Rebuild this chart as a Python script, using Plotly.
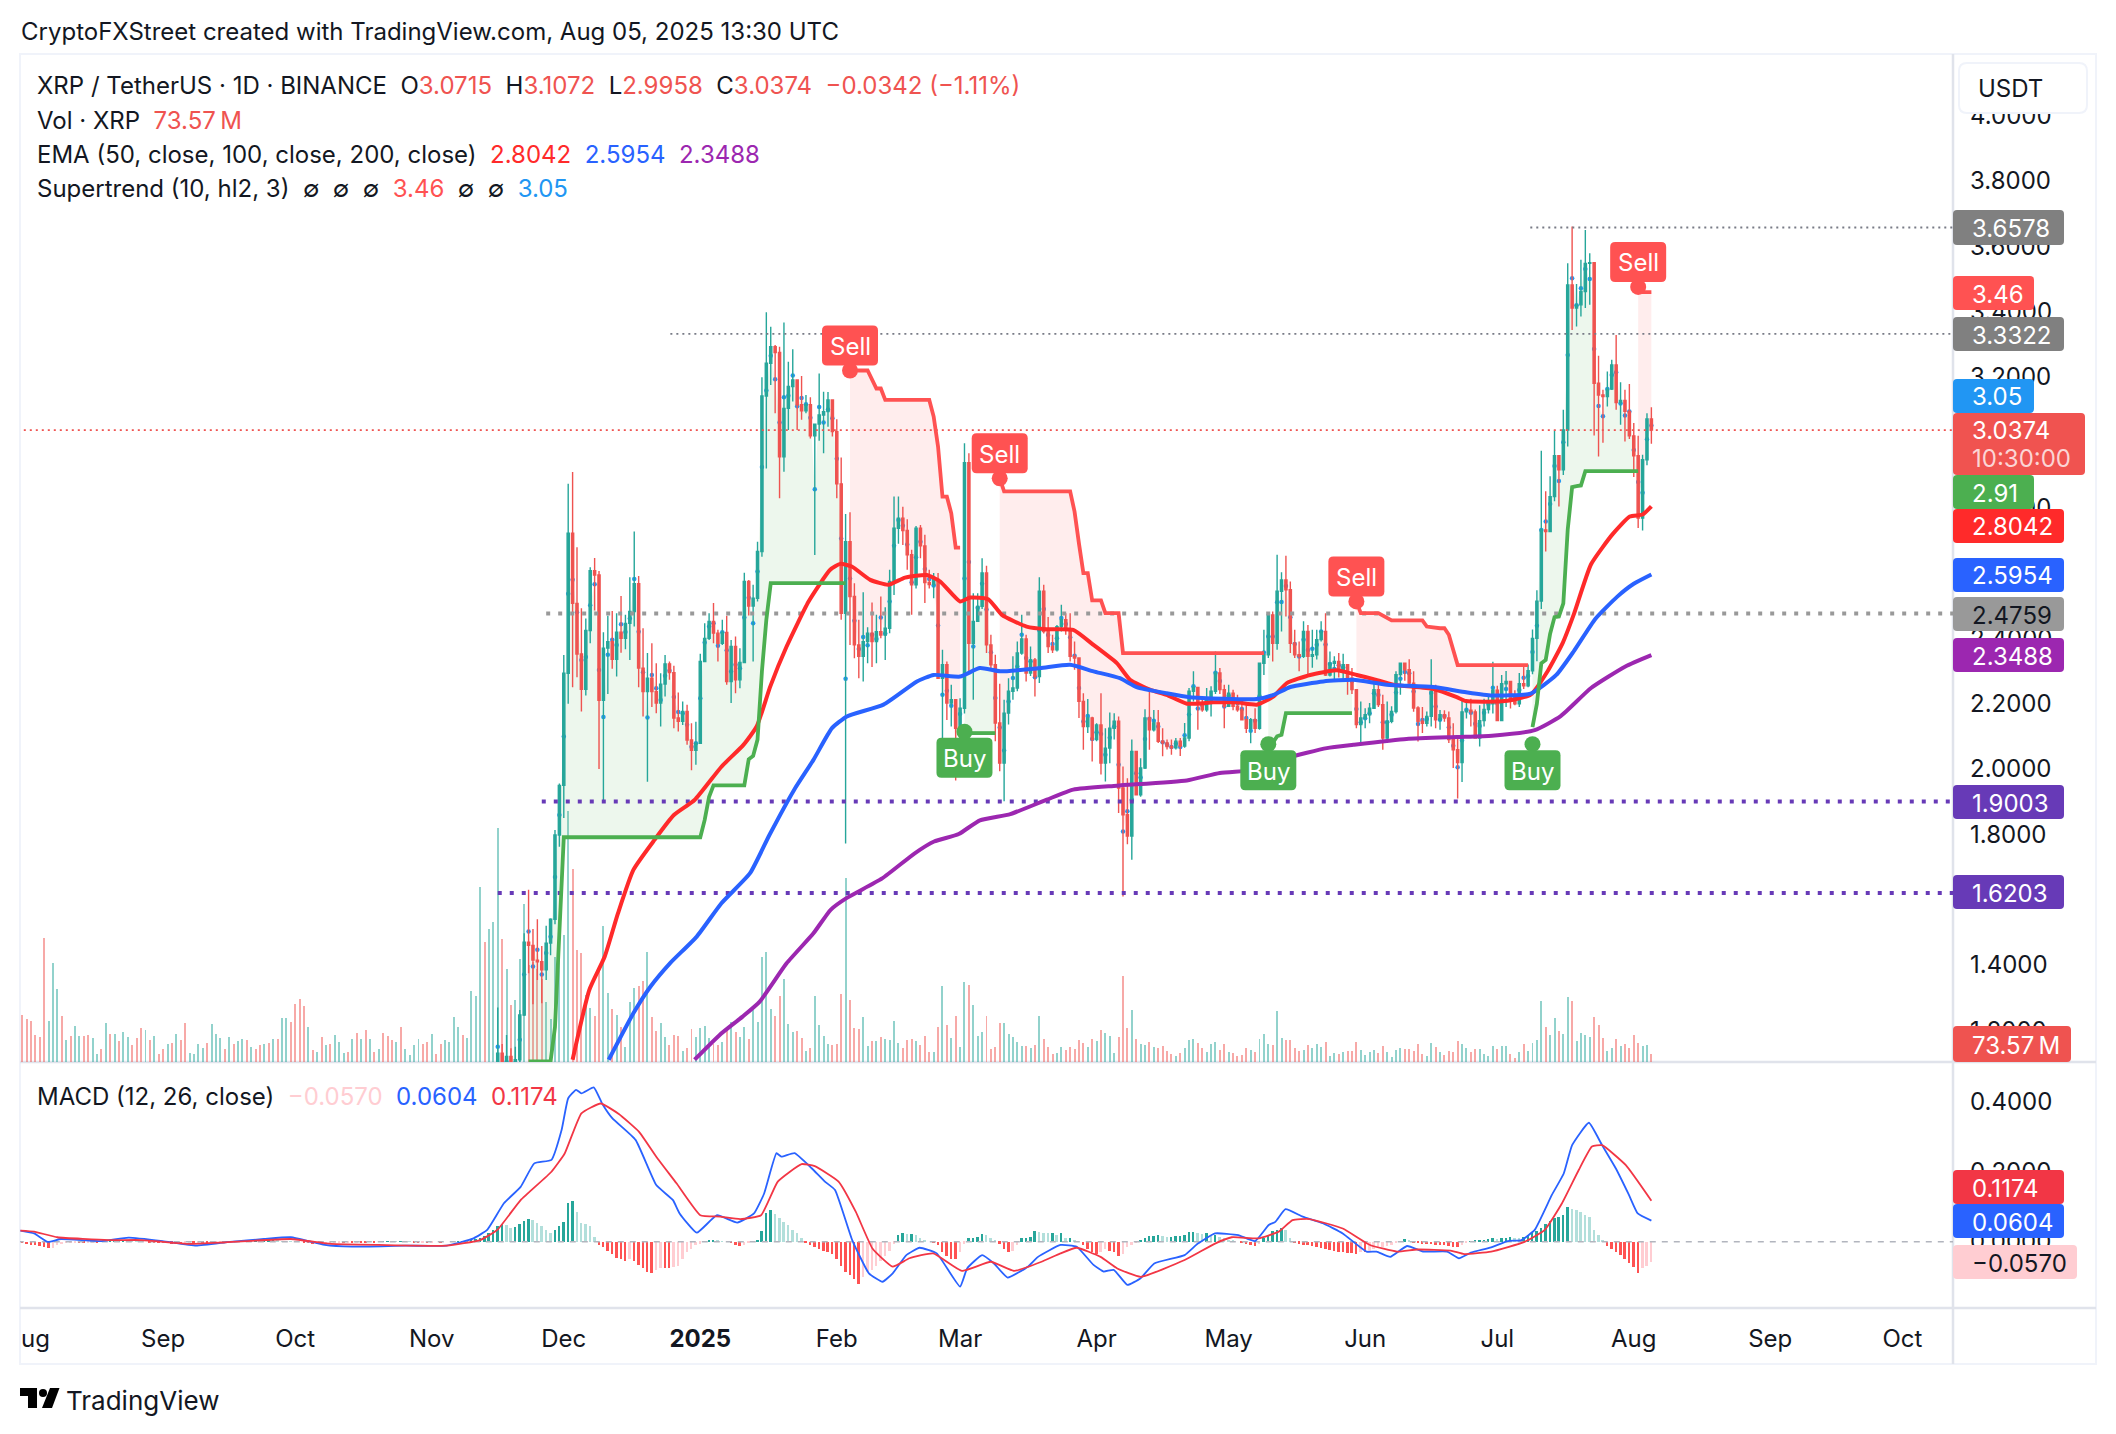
import pandas as pd
import plotly.graph_objects as go

W = 2116
H = 1434

# all series are day offsets from this date
base_day = pd.Timestamp("2024-09-01")

def day(d):
    return base_day + pd.to_timedelta(d, unit="D")

# daily candles, Nov 16 2024 -> Aug 5 2025 (open = previous close)
first_open = 1.03
highs = [
    1.27,1.158,1.186,1.145,1.15,1.262,1.497,1.63,1.51,1.54,1.458,1.52,1.543,1.813,1.956,
    2.349,2.873,2.909,2.679,2.492,2.461,2.618,2.646,2.606,2.419,2.469,2.484,2.477,2.53,2.472,2.587,2.727,2.591,2.431,2.355,2.385,2.324,2.293,2.349,2.329,2.316,2.234,2.207,2.197,2.14,2.145,
    2.353,2.446,2.477,2.508,2.426,2.457,2.469,2.395,2.406,2.37,2.601,2.579,2.564,2.696,3.199,3.398,3.354,3.298,3.293,3.367,3.247,3.285,3.183,3.203,3.145,3.138,3.058,3.211,3.155,3.154,3.13,
    3.071,2.954,2.781,2.786,2.569,2.457,2.541,2.434,2.51,2.472,2.528,2.495,2.61,2.834,2.834,2.803,2.765,2.671,2.744,2.747,2.717,2.61,2.6,2.6,2.365,2.329,2.258,2.202,
    2.217,2.997,2.967,2.538,2.538,2.645,2.622,2.411,2.35,2.261,2.212,2.278,2.345,2.39,2.472,2.411,2.375,2.34,2.587,2.564,2.465,2.411,2.441,2.503,2.477,2.477,2.39,2.34,2.232,2.214,2.16,
    2.14,2.232,2.125,2.173,2.171,2.161,2.008,1.972,2.09,2.054,2.033,2.183,2.248,2.181,2.181,2.125,2.09,2.09,2.095,2.095,2.141,2.248,2.299,2.25,2.217,2.248,2.253,2.36,2.309,2.258,
    2.258,2.243,2.227,2.217,2.202,2.156,2.186,2.326,2.426,2.472,2.482,2.656,2.602,2.653,2.574,2.426,2.39,2.452,2.441,2.426,2.426,2.452,2.477,2.36,2.345,2.355,2.353,2.319,2.309,2.243,2.207,
    2.186,2.202,2.278,2.263,2.227,2.207,2.192,2.299,2.326,2.324,2.336,2.299,2.192,2.19,2.176,2.336,2.258,2.181,2.18,2.176,2.14,2.10,2.215,2.208,2.215,2.182,2.195,2.215,2.228,2.328,
    2.255,2.288,2.3,2.268,2.241,2.294,2.314,2.32,2.427,2.547,2.974,2.85,2.896,3.036,2.959,3.1,3.548,3.661,3.485,3.559,3.65,3.579,3.551,3.265,3.161,3.217,3.253,3.329,3.184,3.161,3.179,
    3.059,3.02,2.962,3.089,3.1072,
]
lows = [
    1.03,1.03,1.02,1.02,1.05,1.08,1.244,1.375,1.28,1.354,1.283,1.354,1.43,1.525,1.762,
    1.85,2.2,2.25,2.281,2.176,2.225,2.385,2.485,2.0,1.9,2.23,2.307,2.283,2.356,2.367,2.334,2.436,2.25,2.161,1.961,2.19,2.171,2.13,2.222,2.273,2.125,2.115,2.135,2.074,1.996,2.013,
    2.08,2.329,2.395,2.385,2.329,2.38,2.258,2.202,2.232,2.247,2.326,2.47,2.329,2.513,2.65,2.92,3.176,3.089,2.829,2.91,3.038,3.125,3.038,3.069,3.089,3.012,2.655,3.005,2.967,3.048,3.018,
    2.829,2.457,1.772,2.38,2.339,2.278,2.268,2.324,2.312,2.324,2.40,2.334,2.416,2.533,2.69,2.686,2.61,2.472,2.553,2.645,2.508,2.553,2.523,2.278,2.09,2.15,2.13,1.965,
    2.12,2.17,2.3,2.212,2.45,2.49,2.355,2.304,2.085,1.993,1.901,2.136,2.212,2.238,2.35,2.268,2.285,2.222,2.263,2.415,2.355,2.355,2.36,2.421,2.411,2.329,2.304,2.156,2.059,2.11,2.023,
    2.085,1.983,1.962,2.018,2.09,1.865,1.61,1.77,1.722,1.92,1.915,2.0,2.059,2.115,2.08,2.039,2.06,2.044,2.06,2.04,2.065,2.085,2.207,2.12,2.175,2.175,2.161,2.23,2.23,2.125,
    2.19,2.18,2.175,2.15,2.11,2.079,2.11,2.12,2.288,2.34,2.329,2.365,2.421,2.467,2.355,2.34,2.299,2.34,2.288,2.31,2.335,2.39,2.285,2.283,2.268,2.28,2.268,2.227,2.23,2.125,2.079,
    2.125,2.14,2.186,2.19,2.059,2.08,2.14,2.17,2.227,2.27,2.25,2.175,2.084,2.11,2.13,2.13,2.125,2.12,2.145,2.08,2.003,1.91,1.96,2.155,2.13,2.095,2.069,2.13,2.17,2.17,
    2.148,2.16,2.19,2.185,2.195,2.19,2.245,2.25,2.29,2.33,2.49,2.666,2.727,2.82,2.804,2.9,2.987,3.344,3.355,3.385,3.411,3.421,3.021,2.957,2.999,3.11,3.16,3.1,3.054,3.003,3.01,
    2.894,2.738,2.73,2.93,2.9958,
]
closes = [
    1.13,1.08,1.12,1.09,1.11,1.247,1.47,1.46,1.415,1.41,1.385,1.467,1.54,1.798,1.95,
    2.293,2.722,2.507,2.352,2.244,2.424,2.607,2.594,2.21,2.37,2.39,2.336,2.419,2.40,2.446,2.482,2.567,2.309,2.237,2.278,2.237,2.202,2.26,2.322,2.295,2.156,2.146,2.176,2.089,2.057,2.079,
    2.329,2.40,2.452,2.416,2.385,2.418,2.268,2.375,2.273,2.326,2.574,2.499,2.523,2.666,3.142,3.242,3.293,3.275,2.956,3.104,3.171,3.191,3.115,3.097,3.115,3.02,3.056,3.084,3.094,3.13,3.033,
    2.873,2.477,2.696,2.528,2.38,2.345,2.39,2.416,2.39,2.42,2.41,2.431,2.574,2.737,2.768,2.73,2.656,2.564,2.737,2.683,2.571,2.565,2.58,2.278,2.319,2.202,2.212,2.125,
    2.186,2.938,2.385,2.452,2.498,2.6,2.38,2.319,2.141,2.018,2.171,2.238,2.248,2.355,2.398,2.294,2.334,2.283,2.544,2.421,2.375,2.365,2.436,2.457,2.426,2.345,2.34,2.207,2.13,2.156,2.09,
    2.135,2.018,2.064,2.125,2.146,1.942,1.86,1.795,2.054,1.921,2.003,2.156,2.12,2.141,2.085,2.08,2.069,2.065,2.085,2.07,2.095,2.238,2.25,2.197,2.181,2.217,2.238,2.294,2.243,2.192,
    2.232,2.192,2.181,2.151,2.125,2.151,2.125,2.324,2.35,2.472,2.385,2.544,2.579,2.549,2.385,2.35,2.345,2.421,2.345,2.35,2.396,2.421,2.288,2.324,2.329,2.304,2.319,2.278,2.243,2.136,2.156,
    2.166,2.186,2.243,2.197,2.095,2.146,2.176,2.289,2.324,2.304,2.263,2.187,2.146,2.14,2.161,2.238,2.151,2.166,2.156,2.09,2.059,2.02,2.175,2.18,2.175,2.095,2.148,2.182,2.2,2.241,
    2.148,2.261,2.268,2.208,2.2,2.261,2.255,2.301,2.4,2.514,2.732,2.727,2.834,2.959,2.916,3.038,3.482,3.411,3.421,3.462,3.548,3.55,3.181,3.145,3.14,3.163,3.237,3.122,3.128,3.095,3.02,
    2.959,2.768,2.947,3.0715,3.0374,
]

# volume in millions, Jul 31 2024 -> Aug 5 2025
volumes = [
    420,384,366,240,225,1116,366,891,654,414,
    195,234,324,234,234,240,216,72,117,351,
    252,252,189,270,225,153,216,306,288,198,
    234,72,117,162,171,252,198,351,81,72,
    162,126,171,342,252,216,117,225,162,189,
    207,198,135,117,153,162,171,207,207,396,
    396,360,522,567,504,315,108,90,225,153,
    162,243,180,81,90,207,261,207,288,207,
    90,117,261,234,198,180,315,117,63,153,
    207,162,180,252,72,162,198,180,405,315,
    243,216,639,594,
    1575,1080,1200,1260,2106,1110,840,510,555,930,
    1425,870,900,840,750,540,390,945,996,1140,
    2259,1740,1005,981,600,486,414,825,1224,621,
    480,426,315,135,540,666,684,729,990,405,
    279,351,225,156,240,234,99,126,300,225,
    306,324,216,165,150,180,315,360,270,225,
    315,210,465,360,945,990,474,414,594,744,
    345,270,279,216,99,126,594,330,234,159,
    150,162,612,1656,558,306,297,405,144,189,
    189,225,207,198,369,171,126,198,207,189,
    153,234,90,90,315,684,333,216,414,135,
    720,693,513,234,270,414,117,135,351,351,
    252,225,180,144,144,126,153,414,
    207,135,72,81,135,108,135,117,198,171,
    135,207,189,288,261,234,81,225,774,306,
    468,207,162,153,180,135,126,144,99,72,
    54,81,126,198,207,171,126,90,162,180,
    108,162,90,81,54,63,126,108,90,207,
    252,162,153,459,216,198,198,126,99,108,
    153,126,162,135,180,54,81,72,90,99,
    99,180,108,63,90,108,81,144,90,45,
    108,126,117,117,99,162,72,54,171,135,
    90,63,99,90,189,162,126,90,117,117,
    72,54,144,117,144,144,72,36,90,162,
    99,171,198,549,315,243,396,279,252,585,
    549,189,261,243,225,405,333,216,99,126,
    207,144,162,126,243,171,144,153,73.57,
]
# up (g) or down (r) for the days before the first candle
early_dirs = (
    "rrrrrrgggr grggrrggrg rgrggrrrgr grrgrgrrgg ggrgggrgrg grgrrgrgrg grrrrgrgrg rgggrgrgrg rgrrrgrggg grrgrrgggg rggg grgg"
).replace(" ", "")

# MACD histogram in thousandths, Jul 31 2024 -> Aug 5 2025
hist_k = [
    -3,
    -6,-8,-10,-12,-16,-18,-17,-8,-6,-4, -3,-2,-2,-3,-2,-1,-1,0,1,2, 2,3,4,3,2,1,1,0,-1,-1,-2,
    -3,-4,-5,-6,-6,-5,-4,-4,-3,-3, -4,-3,-2,-1,-1,0,1,1,2,2, 3,3,2,2,3,4,3,2,2,1,
    1,0,-2,-4,-6,-7,-7,-6,-5,-4, -3,-3,-2,-2,-1,-1,-1,0,-1,0, 1,1,2,1,1,2,1,-1,-2,-1,-2,
    -1,0,-1,0,0,1,2,2,3,5, 8,12,18,25,35,45,52,48,40,42, 50,60,66,62,55,45,35,25,35,45,
    57,110,116,86,55,50,45,15,-8,-15, -25,-35,-45,-50,-55,-50,-55,-65,-75,-85, -88,-80,-75,-75,-75,-73,-70,-50,-30,-20,-10,
    -5,0,3,5,4,2,0,-2,-8,-12, -8,-2,0,5,30,81,92,80,68,57, 48,35,24,10,-3,-8,-15,-20,-25,-30,-35,
    -50,-70,-85,-95,-105,-120,-100,-85,-80,-70, -55,-40,-25,-5,20,25,22,22,20,10, 5,0,-3,-10,-30,-40,-50,-50,
    -30,-5,10,12,15,22,20,12,5,-5, -20,-30,-25,-10,10,12,15,30,28,25, 24,24,20,24,10,10,5,0,-10,-20,-30,
    -35,-30,-20,-25,-30,-40,-35,-15,-8,-3, 3,10,18,18,20,18,15,15,17,18, 20,28,28,25,22,25,20,20,15,10,
    5,3,0,-2,-6,-10,-12,-5,10,20, 30,35,40,35,10,-3,-5,-8,-10,-12, -14,-17,-20,-22,-25,-28,-30,-32,-33,-35,-30,
    -30,-28,-20,-18,-15,-12,-8,-4,2,7, 5,-2,-3,-5,-7,-7,-8,-10,-10,-12, -15,-15,-10,-3,2,3,3,5,8,10,
    8,10,12,15,12,10,14,20,25,30, 40,50,60,67,72,78,100,95,90,85, 78,70,35,20,5,-12,-20,-30,-38,-50,-60,
    -72,-88,-75,-68,-57,
]

ema50_days = [93,96.8,100.3,103.3,106.8,111.6,116,120.7,126.8,131.8,134.8,137.9,141.6,146.6,151.5,153.8,156.4,160.6,164.7,168.5,173.4,176.5,181,183.3,187.4,190.5,196.1,200.7,206.7,211.3,216.6,219.6,224.1,227.9,232.5,238.5,243.8,248.4,252.2,255.2,260.5,266.5,271.1,274.9,279.4,288.5,293.8,295.9,304.7,310.6,314.5,317.9,320.4,324.3,329.2,333.1,336,338]
ema50_vals = [1.11,1.324,1.426,1.558,1.691,1.783,1.859,1.905,2.007,2.074,2.13,2.253,2.375,2.513,2.61,2.628,2.62,2.579,2.564,2.586,2.594,2.574,2.513,2.525,2.52,2.472,2.436,2.428,2.426,2.38,2.324,2.273,2.243,2.227,2.2,2.204,2.204,2.197,2.222,2.263,2.288,2.302,2.288,2.275,2.258,2.245,2.22,2.208,2.208,2.228,2.301,2.387,2.474,2.627,2.719,2.773,2.779,2.8042]

ema100_days = [101.2,106.8,110.7,115.1,121.2,126.8,133.3,137.7,143.3,147.7,151.9,155.3,163.6,171.2,175,181,185.5,190.1,199.2,206,211.3,217.3,221.1,227.9,233.2,248.4,252.2,256,263.5,270.3,277.9,288.5,295.9,301.8,310.6,316.4,320.4,325.3,330.2,334,338]
ema100_vals = [1.11,1.252,1.334,1.405,1.487,1.589,1.681,1.798,1.936,2.028,2.125,2.161,2.197,2.268,2.288,2.283,2.309,2.299,2.309,2.319,2.299,2.278,2.251,2.232,2.22,2.214,2.227,2.251,2.268,2.273,2.258,2.251,2.235,2.225,2.231,2.288,2.361,2.46,2.527,2.567,2.5954]

ema200_days = [120.7,126.4,131.6,135.5,141.6,147.7,151.6,155.1,163.3,170.7,175.1,180.7,185.5,192.4,200.7,206.7,216.6,232.5,240,248.4,255.2,264.3,270.3,282.4,293.8,301.8,311.5,317.4,324.3,332.1,338]
ema200_vals = [1.11,1.186,1.242,1.288,1.405,1.497,1.569,1.604,1.665,1.742,1.778,1.801,1.843,1.862,1.906,1.937,1.949,1.965,1.988,1.998,2.034,2.064,2.074,2.092,2.098,2.102,2.119,2.162,2.248,2.314,2.3488]

# supertrend legs
st_up_days = [
    [83,88,89,90,91,122,123,124,125,132,133,134,135,136,137,138,155],
    [182,189],
    [251,252,253,254,255,270],
    [311,312,313,314,315,316,317,318,319,320,321,322,323,335],
]
st_up_vals = [
    [1.105,1.105,1.21,1.497,1.791,1.791,1.844,1.915,1.95,1.95,2.03,2.04,2.09,2.3,2.457,2.569,2.569],
    [2.11,2.11],
    [2.08,2.08,2.10,2.105,2.171,2.171],
    [2.128,2.2,2.324,2.334,2.414,2.465,2.467,2.507,2.733,2.863,2.866,2.868,2.912,2.912],
]
st_dn_days = [
    [156,160,162,163,164,174,175,176,177,178,179,180,181],
    [190,191,206,207,208,209,210,211,212,213,214,215,216,217,218,219,220,221,249,250],
    [271,272,276,279,286,287,290,291,292,293,294,310],
    [335,336,338],
]
st_dn_vals = [
    [3.22,3.22,3.165,3.165,3.13,3.13,3.079,2.987,2.834,2.834,2.783,2.678,2.678],
    [2.89,2.85,2.85,2.788,2.69,2.6,2.6,2.516,2.516,2.516,2.477,2.477,2.477,2.477,2.355,2.355,2.355,2.355,2.355,2.355],
    [2.513,2.477,2.477,2.455,2.455,2.436,2.431,2.431,2.411,2.365,2.318,2.318],
    [3.47,3.46,3.46],
]

# MACD lines
macd_days = [-32.4,-29.3,-26.2,-23.2,-14,-7.8,-0.1,7.5,15.2,22.9,29,36.7,42.9,55.1,64.4,70.5,73.6,77.4,81.2,84.3,88.2,90.5,92,93.8,95,97.8,99.7,102,107.3,112,115.8,117.3,121.2,125.8,130.4,134.2,136.5,139.3,140.4,143.4,147.3,150.3,152.6,156.5,160.3,163.4,165.7,168.8,171.8,175.7,181,182.6,186,188.7,191.8,196.4,198.7,203.8,207.5,211.3,213.6,215.9,219,222,225.1,232,235,238.9,244.2,248,251.1,252.6,254.9,258.8,263.4,267.9,273.3,275.6,278.7,282.5,286.3,291.6,294.3,297,301.6,305.4,308.5,311.5,315.4,318.1,320,323.8,326.8,329.9,332.9,334.9,338]
macd_vals = [.032,.024,0,.008,.002,.012,.002,-.011,0,.008,.013,-.009,-.014,-.011,-.011,.01,.034,.11,.157,.224,.234,.319,.41,.434,.424,.441,.395,.353,.291,.162,.119,.081,.026,.076,.055,.081,.138,.253,.243,.253,.21,.172,.148,.005,-.09,-.114,-.09,-.038,-.017,-.033,-.128,-.076,-.038,-.062,-.102,-.071,-.043,-.009,-.014,-.066,-.085,-.08,-.123,-.104,-.062,-.038,-.005,.024,.019,.002,.048,.057,.093,.072,.053,.024,-.028,-.028,-.043,-.012,-.028,-.028,-.047,-.031,-.016,.002,.005,.034,.134,.195,.276,.34,.276,.21,.134,.081,.0604]
signal_days = [-32.4,-29.3,-24,-12.4,-4.8,6,13.7,29,38.2,49,64.4,72,75.9,81.2,88.2,91.2,95,99.4,103.5,108.1,112,116.6,122,126.5,131.1,135.8,139.6,145,148,153.4,157.3,161.1,165.7,169.5,174.9,181.4,188,193.3,199.5,203.8,207.5,212.9,216.7,222,232,238.9,242.7,248.8,253.4,256.5,260.3,267.9,274.1,280.2,284.8,292.4,295.5,301.6,309.2,313.8,317.7,321.5,324.5,326.8,332.2,338]
signal_vals = [.032,.029,.013,.005,.005,-.006,-.002,.008,-.006,-.009,-.011,.005,.034,.119,.2,.252,.367,.395,.365,.314,.243,.167,.076,.072,.065,.076,.172,.222,.216,.172,.086,-.019,-.071,-.047,-.033,-.083,-.057,-.083,-.057,-.033,-.017,-.043,-.076,-.1,-.052,-.005,.013,.01,.029,.062,.065,.038,-.009,-.028,-.022,-.025,-.035,-.028,0,.034,.11,.205,.272,.276,.219,.1174]

# dotted levels: price, first day, colour, width, dash
level_prices = [3.6578, 3.3322, 3.0374, 2.4759, 1.9003, 1.6203]
level_starts = [310.5, 115.2, -33, 87, 86, 76]
level_colors = ["#787b86", "#787b86", "#ef5350", "#999999", "#673ab7", "#673ab7"]
level_widths = [1.8, 1.8, 1.8, 4, 4, 4]
level_dashes = ["2px,4px", "2px,4px", "2px,4px", "4px,8px", "4px,8px", "4px,8px"]

# buy and sell flags
sell_days = [156, 190, 271, 335]
sell_prices = [3.22, 2.89, 2.513, 3.476]
buy_days = [182, 251, 311]
buy_prices = [2.114, 2.076, 2.076]

tick_days = [-29, 0, 30, 61, 91, 122, 153, 181, 212, 242, 273, 303, 334, 365, 395]
tick_labels = ["ug", "Sep", "Oct", "Nov", "Dec", "<b>2025</b>", "Feb", "Mar", "Apr", "May", "Jun", "Jul", "Aug", "Sep", "Oct"]
price_ticks = [1.2, 1.4, 1.6, 1.8, 2.0, 2.2, 2.4, 2.6, 2.8, 3.0, 3.2, 3.4, 3.6, 3.8, 4.0]
macd_ticks = [0, 0.2, 0.4]

assert len(highs) == 263 and len(lows) == 263 and len(closes) == 263
assert len(volumes) == 371 and len(hist_k) == 371 and len(early_dirs) == 108

TEAL = "#26a69a"
RED = "#ef5350"
TEXT = "#131722"
FONT = "Inter, Roboto, sans-serif"
SIZE = 24


def px_x(x):
    return x / W


def px_y(y):
    return 1 - y / H


candle_dates = [day(76 + i) for i in range(len(closes))]
opens = [first_open] + closes[:-1]
hl2 = [(h + l) / 2 for h, l in zip(highs, lows)]
vol_dates = [day(-32 + i) for i in range(len(volumes))]

vol_colors = []
for i in range(len(volumes)):
    if i < len(early_dirs):
        up = early_dirs[i] == "g"
    else:
        j = i - len(early_dirs)
        up = closes[j] >= opens[j]
    vol_colors.append("rgba(38,166,154,0.5)" if up else "rgba(239,83,80,0.5)")

hist_colors = []
for i, v in enumerate(hist_k):
    prev = hist_k[i - 1] if i > 0 else 0
    if v >= 0:
        hist_colors.append("#26a69a" if v >= prev else "#b2dfdb")
    else:
        hist_colors.append("#ff5252" if v <= prev else "#ffcdd2")

fig = go.Figure()

# volume at the bottom of everything
fig.add_trace(go.Bar(x=vol_dates, y=volumes, marker_color=vol_colors, marker_line_width=0,
                     width=0.45 * 86400000, xaxis="x", yaxis="y"))


def add_fill(days, vals, color):
    seg = [i for i in range(len(closes)) if days[0] <= 76 + i <= days[-1]]
    fig.add_trace(go.Scatter(x=[candle_dates[i] for i in seg], y=[hl2[i] for i in seg], mode="lines",
                             line=dict(width=0), yaxis="y2"))
    fig.add_trace(go.Scatter(x=[day(d) for d in days], y=vals, mode="lines", line=dict(width=0),
                             fill="tonexty", fillcolor=color, yaxis="y2"))


for d, v in zip(st_up_days, st_up_vals):
    add_fill(d, v, "rgba(76,175,80,0.1)")
for d, v in zip(st_dn_days, st_dn_vals):
    add_fill(d, v, "rgba(255,82,82,0.1)")

# the little hl2 dots sit under the candles
fig.add_trace(go.Scatter(x=candle_dates, y=hl2, mode="markers", marker=dict(size=4.5, color="#2196f3"), yaxis="y2"))

fig.add_trace(go.Candlestick(x=candle_dates, open=opens, high=highs, low=lows, close=closes, yaxis="y3",
                             increasing=dict(line=dict(color=TEAL, width=1.4), fillcolor=TEAL),
                             decreasing=dict(line=dict(color=RED, width=1.4), fillcolor=RED),
                             whiskerwidth=0))

for p, s, c, w, ds in zip(level_prices, level_starts, level_colors, level_widths, level_dashes):
    fig.add_trace(go.Scatter(x=[day(s), day(406.5)], y=[p, p], mode="lines",
                             line=dict(color=c, width=w, dash=ds), yaxis="y4"))

ema_line = dict(width=4, shape="spline", smoothing=0.5)
fig.add_trace(go.Scatter(x=[day(d) for d in ema50_days], y=ema50_vals, mode="lines", line=dict(color="#ff2a2a", **ema_line), yaxis="y4"))
fig.add_trace(go.Scatter(x=[day(d) for d in ema100_days], y=ema100_vals, mode="lines", line=dict(color="#2962ff", **ema_line), yaxis="y4"))
fig.add_trace(go.Scatter(x=[day(d) for d in ema200_days], y=ema200_vals, mode="lines", line=dict(color="#9c27b0", **ema_line), yaxis="y4"))

for d, v in zip(st_up_days, st_up_vals):
    fig.add_trace(go.Scatter(x=[day(i) for i in d], y=v, mode="lines", line=dict(color="#4caf50", width=3.8), yaxis="y4"))
for d, v in zip(st_dn_days, st_dn_vals):
    fig.add_trace(go.Scatter(x=[day(i) for i in d], y=v, mode="lines", line=dict(color="#ff5252", width=3.8), yaxis="y4"))

# MACD pane
fig.add_trace(go.Bar(x=vol_dates, y=[v / 1000 for v in hist_k], marker_color=hist_colors, marker_line_width=0,
                     width=0.45 * 86400000, yaxis="y5"))
fig.add_trace(go.Scatter(x=[day(-33), day(406.5)], y=[0, 0], mode="lines",
                         line=dict(color="#b2b5be", width=1.5, dash="6px,6px"), yaxis="y5"))
macd_line = dict(width=1.8, shape="spline", smoothing=0.4)
fig.add_trace(go.Scatter(x=[day(d) for d in macd_days], y=macd_vals, mode="lines", line=dict(color="#2962ff", **macd_line), yaxis="y5"))
fig.add_trace(go.Scatter(x=[day(d) for d in signal_days], y=signal_vals, mode="lines", line=dict(color="#f23645", **macd_line), yaxis="y5"))

shapes = []
annotations = []


def rounded(x0, y0, x1, y1, r, fmt):
    return (f"M{fmt(x0 + r, 'x')},{fmt(y0, 'y')} L{fmt(x1 - r, 'x')},{fmt(y0, 'y')} "
            f"Q{fmt(x1, 'x')},{fmt(y0, 'y')} {fmt(x1, 'x')},{fmt(y0 + r, 'y')} "
            f"L{fmt(x1, 'x')},{fmt(y1 - r, 'y')} Q{fmt(x1, 'x')},{fmt(y1, 'y')} {fmt(x1 - r, 'x')},{fmt(y1, 'y')} "
            f"L{fmt(x0 + r, 'x')},{fmt(y1, 'y')} Q{fmt(x0, 'x')},{fmt(y1, 'y')} {fmt(x0, 'x')},{fmt(y1 - r, 'y')} "
            f"L{fmt(x0, 'x')},{fmt(y0 + r, 'y')} Q{fmt(x0, 'x')},{fmt(y0, 'y')} {fmt(x0 + r, 'x')},{fmt(y0, 'y')} Z")


def paper_fmt(v, axis):
    return f"{px_x(v):.5f}" if axis == "x" else f"{px_y(v):.5f}"


def pixel_fmt(v, axis):
    return f"{v}"


def text(x, y, s, size=SIZE, color=TEXT, anchor="left"):
    annotations.append(dict(x=px_x(x), y=px_y(y), xref="paper", yref="paper", text=s, showarrow=False,
                            xanchor=anchor, yanchor="middle", align="left",
                            font=dict(family=FONT, size=size, color=color)))


def price_badge(y0, y1, x1, color, label, txt="#ffffff"):
    shapes.append(dict(type="path", xref="paper", yref="paper", fillcolor=color, line_width=0, layer="above",
                       path=rounded(1953, y0, x1, y1, 4, paper_fmt)))
    text(1970, (y0 + y1) / 2 + 1, label, color=txt)


def flag(d, p, color, label, above):
    date = day(d)
    shapes.append(dict(type="circle", xref="x", yref="y4", xsizemode="pixel", ysizemode="pixel",
                       xanchor=date, yanchor=p, x0=-8, x1=8, y0=-8, y1=8,
                       fillcolor=color, line_width=0, layer="above"))
    y0, y1 = (5, 45) if above else (-46, -6)
    shapes.append(dict(type="path", xref="x", yref="y4", xsizemode="pixel", ysizemode="pixel",
                       xanchor=date, yanchor=p, fillcolor=color, line_width=0, layer="above",
                       path=rounded(-28, y0, 28, y1, 5, pixel_fmt)))
    annotations.append(dict(x=date, y=p, xref="x", yref="y4", text=label, showarrow=False, yshift=(y0 + y1) / 2 - 1,
                            xanchor="center", yanchor="middle", font=dict(family=FONT, size=SIZE, color="#ffffff")))


for d, p in zip(sell_days, sell_prices):
    flag(d, p, "#ff5252", "Sell", True)
for d, p in zip(buy_days, buy_prices):
    flag(d, p, "#4caf50", "Buy", False)

# frame and pane separators
frame = "#f0f3fa"
sep = "#e0e3eb"
shapes.append(dict(type="rect", xref="paper", yref="paper", x0=px_x(20), x1=px_x(2096), y0=px_y(1364), y1=px_y(54),
                   line=dict(color=frame, width=2), layer="below"))
shapes.append(dict(type="line", xref="paper", yref="paper", x0=px_x(20), x1=px_x(2096), y0=px_y(1062), y1=px_y(1062),
                   line=dict(color=sep, width=2.5), layer="below"))
shapes.append(dict(type="line", xref="paper", yref="paper", x0=px_x(20), x1=px_x(2096), y0=px_y(1308), y1=px_y(1308),
                   line=dict(color=sep, width=2.5), layer="below"))
shapes.append(dict(type="line", xref="paper", yref="paper", x0=px_x(1953), x1=px_x(1953), y0=px_y(1364), y1=px_y(54),
                   line=dict(color=sep, width=2.5), layer="below"))

# USDT button
shapes.append(dict(type="path", xref="paper", yref="paper", fillcolor="#ffffff", line=dict(color=frame, width=2), layer="above",
                   path=rounded(1959, 63, 2087, 113, 8, paper_fmt)))
text(1976, 88, "USDT")

# right hand price tags
price_badge(210, 245, 2064, "#808080", "3.6578")
price_badge(276, 310, 2034, "#ff5252", "3.46")
price_badge(317, 351, 2064, "#808080", "3.3322")
price_badge(379, 413, 2034, "#2196f3", "3.05")
shapes.append(dict(type="path", xref="paper", yref="paper", fillcolor="#f05350", line_width=0, layer="above",
                   path=rounded(1953, 413, 2085, 475, 4, paper_fmt)))
text(1970, 430, "3.0374", color="#ffffff")
text(1970, 458, "10:30:00", color="#fbd5d5")
price_badge(475, 509, 2034, "#4caf50", "2.91")
price_badge(509, 543, 2064, "#ff2a2a", "2.8042")
price_badge(558, 592, 2064, "#2962ff", "2.5954")
price_badge(597, 631, 2064, "#999999", "2.4759", TEXT)
price_badge(638, 672, 2064, "#9c27b0", "2.3488")
price_badge(785, 819, 2064, "#673ab7", "1.9003")
price_badge(875, 909, 2064, "#673ab7", "1.6203")
price_badge(1026, 1062, 2071, "#ef5350", "73.57\u2009M")
price_badge(1170, 1204, 2064, "#f23645", "0.1174")
price_badge(1204, 1238, 2064, "#2962ff", "0.0604")
price_badge(1245, 1279, 2077, "#ffcdd2", "−0.0570", TEXT)


def span(color, s):
    return f'<span style="color:{color}">{s}</span>'


# header and indicator legends
text(19, 32, "CryptoFXStreet created with TradingView.com, Aug 05, 2025 13:30 UTC")
text(35, 86, "XRP / TetherUS · 1D · BINANCE  O" + span(RED, "3.0715") + "  H" + span(RED, "3.1072") + "  L" + span(RED, "2.9958")
     + "  C" + span(RED, "3.0374") + "  " + span(RED, "−0.0342 (−1.11%)"))
text(35, 120, "Vol · XRP  " + span(RED, "73.57\u2009M"))
text(35, 154, "EMA (50, close, 100, close, 200, close)  " + span("#ff2a2a", "2.8042") + "  " + span("#2962ff", "2.5954") + "  " + span("#9c27b0", "2.3488"))
text(35, 188, "Supertrend (10, hl2, 3)  ∅  ∅  ∅  " + span("#ff5252", "3.46") + "  ∅  ∅  " + span("#2196f3", "3.05"))
text(35, 1096, "MACD (12, 26, close)  " + span("#ffcdd2", "−0.0570") + "  " + span("#2962ff", "0.0604") + "  " + span("#f23645", "0.1174"))

# TradingView mark
logo = [
    "M20,1388 L37,1388 L37,1408 L28,1408 L28,1396 L20,1396 Z",
    "M59.5,1388 L52,1408 L42,1408 L50,1388 Z",
]
for path in logo:
    pts = []
    for part in path.split():
        if part == "Z":
            pts.append("Z")
        else:
            a, b = part[1:].split(",")
            pts.append(f"{part[0]}{px_x(float(a)):.5f},{px_y(float(b)):.5f}")
    shapes.append(dict(type="path", xref="paper", yref="paper", fillcolor="#000000", line_width=0, path=" ".join(pts)))
shapes.append(dict(type="circle", xref="paper", yref="paper", x0=px_x(39), x1=px_x(47), y0=px_y(1397), y1=px_y(1389),
                   fillcolor="#000000", line_width=0))
text(64, 1400, "TradingView", size=26, color="#131722")

price_domain = [px_y(1062), px_y(54)]
price_range = [1.103, 4.189]
hidden = dict(visible=False, fixedrange=True, showgrid=False, zeroline=False)

fig.update_layout(
    width=W,
    height=H,
    margin=dict(l=0, r=0, t=0, b=0),
    autosize=False,
    paper_bgcolor="#ffffff",
    plot_bgcolor="rgba(0,0,0,0)",
    showlegend=False,
    hovermode=False,
    bargap=0,
    font=dict(family=FONT, size=SIZE, color=TEXT),
    xaxis=dict(domain=[px_x(20), px_x(1953)], range=[day(-32.5), day(406.5)], anchor="y5",
               rangeslider=dict(visible=False), showgrid=False, zeroline=False, showline=False,
               tickmode="array", tickvals=[day(d) for d in tick_days], ticktext=tick_labels,
               ticks="", ticklabelstandoff=14, tickfont=dict(family=FONT, size=SIZE, color=TEXT), fixedrange=True),
    yaxis=dict(domain=price_domain, range=[0, 9072], anchor="x", **hidden),
    yaxis2=dict(domain=price_domain, range=price_range, overlaying="y", anchor="x", side="right",
                tickmode="array", tickvals=price_ticks, tickformat=".4f", showgrid=False, zeroline=False, showline=False,
                ticks="", ticklabelstandoff=16, tickfont=dict(family=FONT, size=SIZE, color=TEXT), fixedrange=True),
    yaxis3=dict(domain=price_domain, range=price_range, overlaying="y", anchor="x", **hidden),
    yaxis4=dict(domain=price_domain, range=price_range, overlaying="y", anchor="x", **hidden),
    yaxis5=dict(domain=[px_y(1308), px_y(1063)], range=[-0.189, 0.5106], anchor="x", side="right",
                tickmode="array", tickvals=macd_ticks, tickformat=".4f", showgrid=False, zeroline=False, showline=False,
                ticks="", ticklabelstandoff=16, tickfont=dict(family=FONT, size=SIZE, color=TEXT), fixedrange=True),
    shapes=shapes,
    annotations=annotations,
)

fig.write_html("out.html", config={"displayModeBar": False}, post_script="document.body.style.margin='0';")
